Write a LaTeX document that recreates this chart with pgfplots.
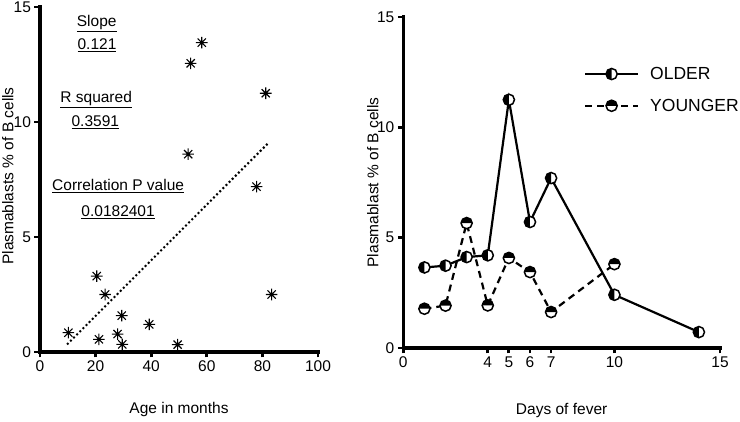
\documentclass[border=0pt]{standalone}
\usepackage{fontspec}
\setmainfont{Liberation Sans}
\usepackage{pgfplots}
\pgfplotsset{compat=1.18}

\pgfdeclareplotmark{halfleft}{%
  \pgfpathcircle{\pgfpointorigin}{\pgfplotmarksize}%
  \pgfsetfillcolor{white}%
  \pgfusepathqfill
  \pgfpathmoveto{\pgfqpoint{0pt}{\pgfplotmarksize}}%
  \pgfpatharc{90}{270}{\pgfplotmarksize}%
  \pgfpathclose
  \pgfsetfillcolor{black}%
  \pgfusepathqfill
  \pgfpathcircle{\pgfpointorigin}{\pgfplotmarksize}%
  \pgfusepathqstroke
}
\pgfdeclareplotmark{halftop}{%
  \pgfpathcircle{\pgfpointorigin}{\pgfplotmarksize}%
  \pgfsetfillcolor{white}%
  \pgfusepathqfill
  \pgfpathmoveto{\pgfqpoint{\pgfplotmarksize}{0pt}}%
  \pgfpatharc{0}{180}{\pgfplotmarksize}%
  \pgfpathclose
  \pgfsetfillcolor{black}%
  \pgfusepathqfill
  \pgfpathcircle{\pgfpointorigin}{\pgfplotmarksize}%
  \pgfusepathqstroke
}
\pgfdeclareplotmark{star8}{%
  \pgfpathmoveto{\pgfqpoint{-\pgfplotmarksize}{0pt}}\pgfpathlineto{\pgfqpoint{\pgfplotmarksize}{0pt}}%
  \pgfpathmoveto{\pgfqpoint{0pt}{-\pgfplotmarksize}}\pgfpathlineto{\pgfqpoint{0pt}{\pgfplotmarksize}}%
  \pgfpathmoveto{\pgfpointpolar{45}{\pgfplotmarksize}}\pgfpathlineto{\pgfpointpolar{225}{\pgfplotmarksize}}%
  \pgfpathmoveto{\pgfpointpolar{135}{\pgfplotmarksize}}\pgfpathlineto{\pgfpointpolar{315}{\pgfplotmarksize}}%
  \pgfusepathqstroke
  \pgfpathcircle{\pgfpointorigin}{1.6pt}\pgfusepathqfill
}

\newcommand{\tf}{\fontsize{15.5}{18}\selectfont}

\pgfplotsset{
  myaxis/.style={
    scale only axis,
    axis lines=left,
    axis line style={-, line width=3.3pt},
    tick align=outside,
    major tick length=5.5pt,
    tick style={line width=2.8pt, black},
    ymin=0, ymax=15,
    ytick={0,5,10,15},
    tick label style={font=\tf},
    /pgf/number format/assume math mode=true,
    clip=false,
  }
}

\begin{document}
\begin{tikzpicture}
\useasboundingbox (0pt,0pt) rectangle (740pt,422pt);

% ---------- Left: scatter ----------
\begin{axis}[myaxis,
  at={(40pt,70pt)}, anchor=origin,
  width=278pt, height=345pt,
  xmin=0, xmax=100,
  xtick={0,20,40,60,80,100},
  xlabel={Age in months},
  ylabel={Plasmablasts \% of B cells},
  every axis x label/.style={at={(axis description cs:0.5,-0.168)},anchor=center,font=\tf},
  every axis y label/.style={at={(axis description cs:-0.116,0.51)},rotate=90,anchor=center,font=\tf},
]
\draw[line width=3.3pt, line cap=rect] (rel axis cs:0,1) -- (rel axis cs:0,0) -- (rel axis cs:1,0);
\addplot[only marks, mark=star8, mark size=5.8pt, line width=1.1pt] coordinates {
 (58.2,13.45) (54.2,12.55) (81.2,11.25) (53.3,8.6) (77.9,7.19)
 (83.3,2.5) (20.4,3.3) (23.4,2.5) (29.4,1.58) (10.2,0.84)
 (21.2,0.55) (27.9,0.78) (29.6,0.33) (39.3,1.2) (49.5,0.32)
};
\addplot[line width=2.8pt, line cap=round, dash pattern=on 0pt off 4.4pt] coordinates {
 (10,0.36) (82.5,9.13)
};
\node[font=\tf] at (axis cs:20.4,14.3) {\underline{Slope}};
\node[font=\tf] at (axis cs:20.5,13.35) {\underline{0.121}};
\node[font=\tf] at (axis cs:20.2,10.96) {\underline{R squared}};
\node[font=\tf] at (axis cs:19.9,9.98) {\underline{0.3591}};
\node[font=\tf] at (axis cs:28.1,7.22) {\underline{Correlation P value}};
\node[font=\tf] at (axis cs:28.1,6.09) {\underline{0.0182401}};
\end{axis}

% ---------- Right: lines ----------
\begin{axis}[myaxis,
  at={(403.3pt,74pt)}, anchor=origin,
  width=316.7pt, height=331pt,
  xmin=0, xmax=15,
  xtick={0,4,5,6,7,10,15},
  xlabel={Days of fever},
  ylabel={Plasmablast \% of B cells},
  every axis x label/.style={at={(axis description cs:0.5,-0.19)},anchor=center,font=\tf},
  every axis y label/.style={at={(axis description cs:-0.096,0.5)},rotate=90,anchor=center,font=\tf},
  legend style={draw=none, fill=none, font=\fontsize{17.5}{20}\selectfont,
    at={(axis description cs:0.57,0.855)}, anchor=north west,
    row sep=14pt, inner sep=0pt,
    /tikz/every odd column/.append style={column sep=9pt}},
  legend cell align=left,
  legend image code/.code={%
    \draw[mark repeat=2,mark phase=2,#1] plot coordinates {(0pt,0pt) (26.5pt,0pt) (53pt,0pt)};},
]
\draw[line width=3.3pt, line cap=rect] (rel axis cs:0,1) -- (rel axis cs:0,0) -- (rel axis cs:1,0);
\addplot[line width=2.2pt, mark=halfleft, mark size=5.6pt, mark options={solid, line width=1.5pt}] coordinates {
 (1,3.65) (2,3.73) (3,4.12) (4,4.2) (5,11.25) (6,5.71) (7,7.7) (10,2.41) (14,0.72)
};
\addlegendentry{OLDER}
\addplot[line width=2.2pt, dash pattern=on 7pt off 5pt, mark=halftop, mark size=5.6pt, mark options={solid, line width=1.5pt}] coordinates {
 (1,1.78) (2,1.92) (3,5.66) (4,1.93) (5,4.08) (6,3.44) (7,1.63) (10,3.8)
};
\addlegendentry{YOUNGER}
\end{axis}
\end{tikzpicture}
\end{document}
